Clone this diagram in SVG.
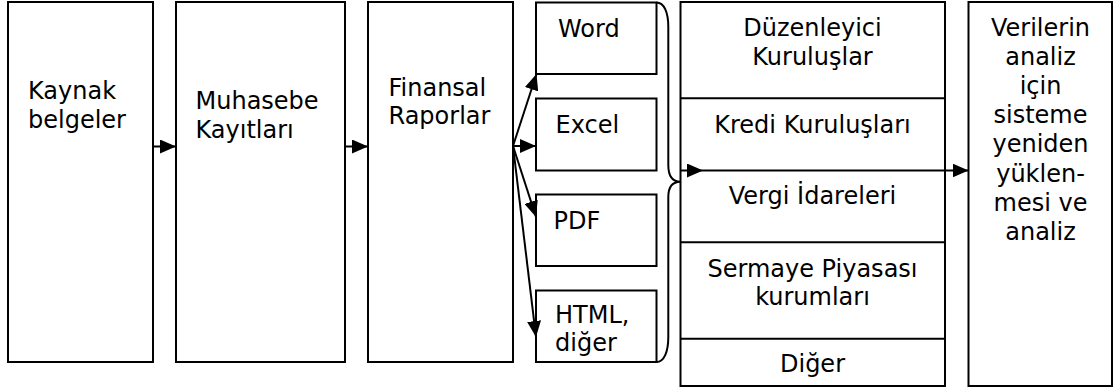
<svg xmlns="http://www.w3.org/2000/svg" width="1117" height="387" viewBox="0 0 1117 387">
<style>
.box{fill:#fff;stroke:#000;stroke-width:2}
.ln{fill:none;stroke:#000;stroke-width:2}
.t{font-family:"DejaVu Sans","Verdana",sans-serif;font-size:24px;fill:#000}
.c{text-anchor:middle}
</style>
<defs>
<marker id="ah" viewBox="0 0 16 14" refX="16" refY="7" markerWidth="16" markerHeight="14" markerUnits="userSpaceOnUse" orient="auto">
<path d="M0,0 L16,7 L0,14 z" fill="#000"/>
</marker>
</defs>
<g id="kaynak">
<rect class="box" x="8" y="2" width="145" height="360"/>
<text class="t" x="28" y="99">Kaynak</text>
<text class="t" x="28" y="127.7">belgeler</text>
</g>
<g id="muhasebe">
<rect class="box" x="176" y="2" width="169" height="360"/>
<text class="t" x="195.5" y="109">Muhasebe</text>
<text class="t" x="195.5" y="137.7">Kayıtları</text>
</g>
<g id="finansal">
<rect class="box" x="368" y="2" width="145" height="360"/>
<text class="t" x="388.5" y="95.7">Finansal</text>
<text class="t" x="388.5" y="124">Raporlar</text>
</g>
<g id="word">
<rect class="box" x="536" y="2.5" width="120.5" height="71.5"/>
<text class="t" x="558" y="36.7">Word</text>
</g>
<g id="excel">
<rect class="box" x="536" y="98.5" width="120.5" height="72"/>
<text class="t" x="555.5" y="132.7">Excel</text>
</g>
<g id="pdf">
<rect class="box" x="536" y="194.5" width="120.5" height="71.5"/>
<text class="t" x="553.5" y="229">PDF</text>
</g>
<g id="html">
<rect class="box" x="536" y="290.5" width="120.5" height="71.5"/>
<text class="t" x="555" y="323.3">HTML,</text>
<text class="t" x="555" y="351">diğer</text>
</g>
<g id="kurumlar">
<rect class="box" x="680.5" y="2" width="264.5" height="384"/>
<line class="ln" x1="680.5" y1="98.3" x2="945" y2="98.3"/>
<line class="ln" x1="680.5" y1="242.3" x2="945" y2="242.3"/>
<line class="ln" x1="680.5" y1="338.7" x2="945" y2="338.7"/>
<text class="t c" x="812.5" y="36">Düzenleyici</text>
<text class="t c" x="812.5" y="65">Kuruluşlar</text>
<text class="t c" x="812.5" y="132.7">Kredi Kuruluşları</text>
<text class="t c" x="812.5" y="204">Vergi İdareleri</text>
<text class="t c" x="812.5" y="276.7">Sermaye Piyasası</text>
<text class="t c" x="812.5" y="305">kurumları</text>
<text class="t c" x="812.5" y="371.7">Diğer</text>
</g>
<g id="analiz">
<rect class="box" x="968.5" y="2" width="143.5" height="384"/>
<text class="t c" x="1040.5" y="36">Verilerin</text>
<text class="t c" x="1040.5" y="65">analiz</text>
<text class="t c" x="1040.5" y="94">için</text>
<text class="t c" x="1040.5" y="123">sisteme</text>
<text class="t c" x="1040.5" y="152">yeniden</text>
<text class="t c" x="1040.5" y="181.5">yüklen-</text>
<text class="t c" x="1040.5" y="211">mesi ve</text>
<text class="t c" x="1040.5" y="240">analiz</text>
</g>
<g id="connectors">
<path class="ln" d="M153,146.5 L176,146.5" marker-end="url(#ah)"/>
<path class="ln" d="M345,146.5 L368,146.5" marker-end="url(#ah)"/>
<path class="ln" d="M513,146 L536.5,74" marker-end="url(#ah)"/>
<path class="ln" d="M513,146 L536,146" marker-end="url(#ah)"/>
<path class="ln" d="M513,146 L536,217" marker-end="url(#ah)"/>
<path class="ln" d="M513,146 L536,337" marker-end="url(#ah)"/>
<path class="ln" d="M656.5,2.5 C664,2.5 668.3,12 668.3,27 L668.3,165 C668.3,176 672,181.7 680.5,181.7 C672,181.7 668.3,188 668.3,197 L668.3,337 C668.3,352 664,362 656.5,362"/>
<path class="ln" d="M680.5,170.5 L703,170.5" marker-end="url(#ah)"/>
<path class="ln" d="M703,170.5 L968.5,170.5" marker-end="url(#ah)"/>
</g>
</svg>
